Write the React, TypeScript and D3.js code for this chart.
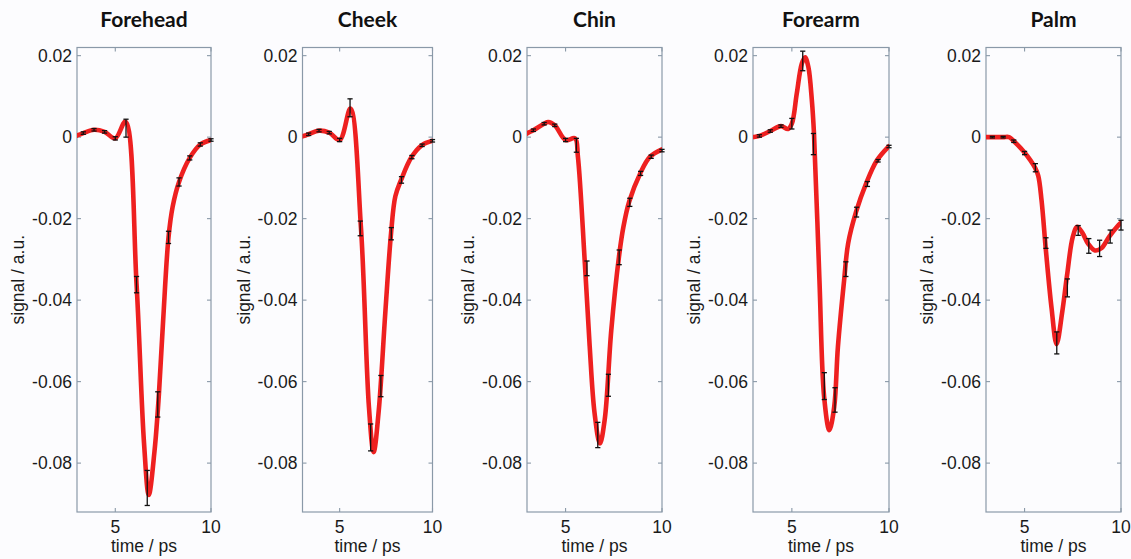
import React from 'react';
import * as d3 from 'd3';

const WIDTH = 1131;
const HEIGHT = 559;

// Skin sites, one panel each
const regions = ['Forehead', 'Cheek', 'Chin', 'Forearm', 'Palm'];

// Times (ps) at which mean ± s.d. are shown
const sampleTimes = [3.33, 3.89, 4.44, 5.0, 5.56, 6.11, 6.67, 7.22, 7.78, 8.33, 8.89, 9.44, 10.0];

const foreheadMean = [0.001, 0.0018, 0.0013, -0.0003, 0.0022, -0.0362, -0.0861, -0.0656, -0.0246, -0.011, -0.0051, -0.0018, -0.0007];
const foreheadSd = [0.0003, 0.0003, 0.0003, 0.0004, 0.0022, 0.002, 0.0043, 0.0031, 0.0015, 0.001, 0.0005, 0.0004, 0.0003];

const cheekMean = [0.0007, 0.0016, 0.0011, -0.0007, 0.0072, -0.0224, -0.0737, -0.0611, -0.0237, -0.0105, -0.0049, -0.002, -0.0009];
const cheekSd = [0.0003, 0.0003, 0.0003, 0.0004, 0.0022, 0.0018, 0.0033, 0.0026, 0.0015, 0.0008, 0.0004, 0.0003, 0.0003];

const chinMean = [0.0017, 0.0033, 0.0029, -0.0007, -0.002, -0.0322, -0.0731, -0.0609, -0.0295, -0.016, -0.0089, -0.0048, -0.0033];
const chinSd = [0.0003, 0.0003, 0.0003, 0.0004, 0.0017, 0.0018, 0.0031, 0.0027, 0.0018, 0.001, 0.0005, 0.0004, 0.0003];

const forearmMean = [0.0003, 0.0015, 0.0027, 0.0033, 0.0187, -0.0017, -0.0611, -0.0645, -0.0324, -0.0184, -0.0115, -0.0058, -0.0023];
const forearmSd = [0.0003, 0.0003, 0.0003, 0.0013, 0.0024, 0.0026, 0.0033, 0.003, 0.0018, 0.0012, 0.0006, 0.0003, 0.0003];

const palmMean = [0.0, 0.0, -0.001, -0.0039, -0.0075, -0.026, -0.0505, -0.037, -0.0229, -0.0267, -0.0273, -0.0244, -0.0216];
const palmSd = [0.0002, 0.0002, 0.0003, 0.0004, 0.001, 0.0013, 0.0027, 0.0022, 0.0012, 0.0018, 0.002, 0.0016, 0.0012];

// Averaged waveforms, [time ps, signal a.u.]
const foreheadTrace: [number, number][] = [
  [2.8, 0.0], [3.0, 0.0004], [3.33, 0.001], [3.89, 0.0018], [4.44, 0.0013], [5.0, -0.0003],
  [5.53, 0.0038], [6.11, -0.036], [6.5, -0.075], [6.75, -0.0878],
  [7.05, -0.077], [7.28, -0.063], [7.5, -0.045], [7.78, -0.0246], [8.0, -0.017], [8.33, -0.011],
  [8.89, -0.0051], [9.44, -0.0018], [10.0, -0.0007],
];
const cheekTrace: [number, number][] = [
  [2.8, 0.0], [3.0, 0.0002], [3.33, 0.0007], [3.89, 0.0016], [4.44, 0.0011], [5.0, -0.0007],
  [5.58, 0.007], [6.15, -0.0224], [6.58, -0.0664], [6.83, -0.0773], [7.1, -0.0674],
  [7.46, -0.043], [7.77, -0.0235], [8.0, -0.0145], [8.31, -0.0105], [8.87, -0.0049],
  [9.42, -0.002], [10.0, -0.0009],
];
const chinTrace: [number, number][] = [
  [2.8, 0.0002], [3.0, 0.0009], [3.33, 0.0017], [3.89, 0.0033], [4.1, 0.0037], [4.44, 0.0029],
  [5.0, -0.0007], [5.49, -0.0003], [5.64, -0.0048], [6.0, -0.031], [6.25, -0.0513], [6.5, -0.0676],
  [6.78, -0.0752], [7.03, -0.0693], [7.37, -0.0474], [7.77, -0.0293], [8.0, -0.022], [8.3, -0.0158],
  [8.87, -0.0089], [9.38, -0.0048], [10.0, -0.003],
];
const forearmTrace: [number, number][] = [
  [2.8, -0.0003], [3.0, 0.0], [3.33, 0.0003], [3.89, 0.0015], [4.44, 0.0027], [4.8, 0.002],
  [5.0, 0.0033], [5.25, 0.0106], [5.51, 0.018], [5.68, 0.0196], [5.85, 0.0172], [6.03, 0.009],
  [6.14, 0.0008], [6.42, -0.0351], [6.66, -0.0637], [6.93, -0.0719], [7.18, -0.0662], [7.37, -0.0515],
  [7.69, -0.0351], [7.9, -0.026], [8.3, -0.0184], [8.82, -0.0114], [9.38, -0.0057], [10.0, -0.0022],
];
const palmTrace: [number, number][] = [
  [2.8, 0.0], [3.33, 0.0], [3.89, 0.0], [4.2, 0.0], [4.45, -0.001], [5.02, -0.0039], [5.54, -0.0075],
  [5.71, -0.0095], [5.88, -0.0155], [6.11, -0.028], [6.4, -0.042], [6.66, -0.0508], [6.95, -0.043],
  [7.2, -0.034], [7.5, -0.0245], [7.73, -0.022], [8.0, -0.0235], [8.3, -0.0262], [8.65, -0.0278],
  [9.0, -0.0272], [9.39, -0.0244], [9.87, -0.0216], [10.0, -0.021],
];

const traces = [foreheadTrace, cheekTrace, chinTrace, forearmTrace, palmTrace];
const means = [foreheadMean, cheekMean, chinMean, forearmMean, palmMean];
const sds = [foreheadSd, cheekSd, chinSd, forearmSd, palmSd];

// Axis ticks
const xTicks = [5, 10];
const xTickLabels = ['5', '10'];
const yTicks = [0.02, 0, -0.02, -0.04, -0.06, -0.08];
const yTickLabels = ['0.02', '0', '-0.02', '-0.04', '-0.06', '-0.08'];
const timeDomain: [number, number] = [3, 10];
const signalDomain: [number, number] = [-0.092, 0.022];

// Panel frames (left/right edges in px)
const frames = [
  { left: 77, right: 211 },
  { left: 302.5, right: 432.5 },
  { left: 527, right: 662 },
  { left: 753, right: 889 },
  { left: 986, right: 1121 },
];
const TOP = 47.5;
const BOTTOM = 512;

const AXIS_COLOR = '#8a99a8';
const TEXT_COLOR = '#1a1a1a';
const LINE_COLOR = '#ee2020';
const SANS = '"Liberation Sans", Arial, Helvetica, sans-serif';

function Panel({ idx }: { idx: number }) {
  const { left, right } = frames[idx];
  const x = d3.scaleLinear().domain(timeDomain).range([left, right]);
  const y = d3.scaleLinear().domain(signalDomain).range([BOTTOM, TOP]);
  const line = d3
    .line<[number, number]>()
    .x((d) => x(d[0]))
    .y((d) => y(d[1]))
    .curve(d3.curveCatmullRom.alpha(0.5));
  const clipId = `clip-${idx}`;
  const cx = (left + right) / 2;
  const tick = 4;
  const cap = 2.6;

  return (
    <g>
      <defs>
        <clipPath id={clipId}>
          <rect x={left} y={TOP} width={right - left} height={BOTTOM - TOP} />
        </clipPath>
      </defs>
      <text
        x={cx}
        y={27}
        textAnchor="middle"
        fontFamily="Lato, 'Open Sans', sans-serif"
        fontWeight={700}
        fontSize={21}
        fill="#111"
      >
        {regions[idx]}
      </text>

      {/* box and inward ticks */}
      <rect x={left} y={TOP} width={right - left} height={BOTTOM - TOP} fill="none" stroke={AXIS_COLOR} strokeWidth={1.2} />
      {yTicks.map((t) => (
        <g key={`y${t}`}>
          <line x1={left} x2={left + tick} y1={y(t)} y2={y(t)} stroke={AXIS_COLOR} strokeWidth={1.1} />
          <line x1={right} x2={right - tick} y1={y(t)} y2={y(t)} stroke={AXIS_COLOR} strokeWidth={1.1} />
        </g>
      ))}
      {xTicks.map((t) => (
        <g key={`x${t}`}>
          <line x1={x(t)} x2={x(t)} y1={BOTTOM} y2={BOTTOM - tick} stroke={AXIS_COLOR} strokeWidth={1.1} />
          <line x1={x(t)} x2={x(t)} y1={TOP} y2={TOP + tick} stroke={AXIS_COLOR} strokeWidth={1.1} />
        </g>
      ))}

      {/* tick labels */}
      {yTicks.map((t, i) => (
        <text
          key={`yl${t}`}
          x={left - 5}
          y={y(t)}
          dy="0.36em"
          textAnchor="end"
          fontFamily={SANS}
          fontSize={17.5}
          fill={TEXT_COLOR}
        >
          {yTickLabels[i]}
        </text>
      ))}
      {xTicks.map((t, i) => (
        <text
          key={`xl${t}`}
          x={x(t)}
          y={533}
          textAnchor="middle"
          fontFamily={SANS}
          fontSize={17.5}
          fill={TEXT_COLOR}
        >
          {xTickLabels[i]}
        </text>
      ))}

      {/* axis titles */}
      <text x={cx} y={552} textAnchor="middle" fontFamily={SANS} fontSize={17.5} fill={TEXT_COLOR}>
        time / ps
      </text>
      <text
        transform={`translate(${left - 59},${(TOP + BOTTOM) / 2}) rotate(-90)`}
        textAnchor="middle"
        dy="0.35em"
        fontFamily={SANS}
        fontSize={17.5}
        fill={TEXT_COLOR}
      >
        signal / a.u.
      </text>

      {/* waveform */}
      <path
        d={line(traces[idx]) || ''}
        fill="none"
        stroke={LINE_COLOR}
        strokeWidth={4.6}
        strokeLinejoin="round"
        strokeLinecap="round"
        clipPath={`url(#${clipId})`}
      />

      {/* mean ± s.d. */}
      {sampleTimes.map((t, i) => {
        const m = means[idx][i];
        const s = sds[idx][i];
        const px = x(t);
        const y1 = y(m + s);
        const y2 = y(m - s);
        return (
          <g key={`e${i}`} stroke="#111" strokeWidth={1.3}>
            <line x1={px} x2={px} y1={y1} y2={y2} />
            <line x1={px - cap} x2={px + cap} y1={y1} y2={y1} />
            <line x1={px - cap} x2={px + cap} y1={y2} y2={y2} />
          </g>
        );
      })}
    </g>
  );
}

export default function App() {
  return (
    <svg
      width={WIDTH}
      height={HEIGHT}
      viewBox={`0 0 ${WIDTH} ${HEIGHT}`}
      style={{ position: 'absolute', left: 0, top: 0, display: 'block', background: '#fcfcfe' }}
    >
      <rect x={0} y={0} width={WIDTH} height={HEIGHT} fill="#fcfcfe" />
      {regions.map((_, i) => (
        <Panel key={regions[i]} idx={i} />
      ))}
    </svg>
  );
}
